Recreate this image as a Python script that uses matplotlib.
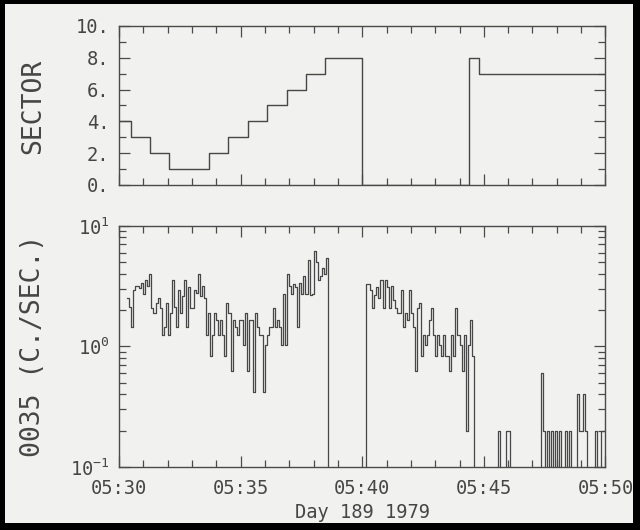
import numpy as np
import matplotlib
matplotlib.use("Agg")
import matplotlib.pyplot as plt
from matplotlib.ticker import MultipleLocator, FuncFormatter, LogLocator, NullFormatter
from matplotlib.patches import Rectangle

plt.rcParams['font.family'] = ['DejaVu Sans Mono', 'DejaVu Sans']
plt.rcParams['mathtext.fontset'] = 'custom'
plt.rcParams['mathtext.rm'] = 'DejaVu Sans Mono'
plt.rcParams['mathtext.it'] = 'DejaVu Sans Mono'
plt.rcParams['mathtext.bf'] = 'DejaVu Sans Mono'

INK = '#464646'
LINE = '#474747'
PAPER = '#f1f1ef'

# all times in minutes after 05:30, day 189 1979
T_END = 20.0
BIN = 5.0 / 60.0          # 5 s accumulation bins

# sector number, step changes
sector_t = [0.0, 0.48, 1.28, 2.07, 3.70, 4.47, 5.30, 6.10, 6.90, 7.69, 8.48, 9.98, 14.41, 14.79]
sector_v = [4, 3, 2, 1, 2, 3, 4, 5, 6, 7, 8, 0, 8, 7]

# channel 0035 count rate (c/s), first stretch of data
seg1_start = 0.333
seg1_rate = [2.52, 2.12, 1.46, 2.91, 3.14, 3.14, 3.04, 3.35, 2.71, 3.57,
             3.18, 4.00, 2.08, 1.89, 2.29, 2.50, 2.08, 1.25, 1.46, 2.29,
             1.25, 1.89, 3.52, 2.14, 1.46, 2.95, 1.89, 2.60, 3.57, 1.46,
             3.10, 2.08, 2.08, 2.95, 2.77, 4.00, 2.60, 3.14, 2.50, 1.25,
             1.89, 0.83, 1.25, 1.89, 1.66, 1.25, 1.66, 1.25, 0.83, 2.29,
             1.89, 0.62, 1.66, 1.46, 1.25, 1.66, 1.66, 1.03, 1.89, 0.62,
             1.66, 1.66, 0.42, 1.89, 1.46, 1.25, 1.25, 0.42, 1.03, 1.25,
             1.46, 1.46, 2.08, 1.46, 1.66, 1.46, 1.03, 2.73, 1.03, 4.00,
             3.14, 2.73, 3.31, 3.10, 1.46, 3.35, 2.73, 3.80, 2.73, 5.23,
             2.68, 2.73, 6.13, 5.03, 3.57, 3.80, 4.46, 4.00, 5.40]

# second stretch
seg2_start = 10.167
seg2_rate = [3.31, 3.31, 2.95, 2.08, 2.68, 3.10, 2.52, 3.52, 2.08, 3.52,
             3.10, 2.08, 3.18, 2.44, 2.08, 1.89, 1.89, 2.91, 1.46, 1.89,
             1.66, 2.91, 1.89, 1.46, 0.62, 2.08, 2.29, 0.83, 1.25, 1.03,
             1.25, 1.66, 2.08, 1.25, 0.83, 1.25, 1.03, 0.83, 1.25, 0.83,
             0.83, 0.62, 1.25, 0.83, 2.08, 1.25, 1.03, 0.62, 1.25, 0.20,
             1.03, 1.66, 0.83]

# sparse counts at the end
seg3_t = [15.58, 15.92, 16.00, 17.33, 17.42, 17.58, 17.75, 17.92, 18.08,
          18.33, 18.50, 18.83, 18.92, 19.00, 19.08, 19.17, 19.58, 19.83, 19.92]
seg3_rate = [0.2, 0.2, 0.2, 0.6, 0.2, 0.2, 0.2, 0.2, 0.2,
             0.2, 0.2, 0.4, 0.2, 0.2, 0.4, 0.2, 0.2, 0.2, 0.2]

# put everything on one 5 s grid, empty bins fall below the axis,
# nothing before the first stretch
n_bins = int(round(T_END / BIN))
rate = np.zeros(n_bins)
k1 = int(round(seg1_start / BIN))
rate[k1:k1 + len(seg1_rate)] = seg1_rate
k2 = int(round(seg2_start / BIN))
rate[k2:k2 + len(seg2_rate)] = seg2_rate
for t, r in zip(seg3_t, seg3_rate):
    rate[int(round(t / BIN))] = r
rate = np.where(rate > 0, rate, 1e-3)
rate[:k1] = np.nan
edges = np.arange(n_bins + 1) * BIN

fig = plt.figure(figsize=(6.4, 5.3), dpi=100, facecolor='black')
fig.patches.append(Rectangle((0.008, 0.014), 0.981, 0.978, transform=fig.transFigure,
                             facecolor=PAPER, edgecolor='none', zorder=-10))

ax1 = fig.add_axes([0.186, 0.651, 0.760, 0.300])
ax2 = fig.add_axes([0.186, 0.119, 0.760, 0.455])

st = sector_t + [T_END]
sv = sector_v + [sector_v[-1]]
ax1.step(st, sv, where='post', color=LINE, lw=1.0)
ax1.set_xlim(0, T_END)
ax1.set_ylim(0, 10)
ax1.yaxis.set_major_locator(MultipleLocator(2))
ax1.yaxis.set_minor_locator(MultipleLocator(1))
ax1.yaxis.set_major_formatter(FuncFormatter(lambda v, _: f"{v:.0f}."))

ax2.step(edges, np.append(rate, rate[-1]), where='post', color=LINE, lw=0.9)
ax2.set_yscale('log')
ax2.set_xlim(0, T_END)
ax2.set_ylim(0.1, 10)
ax2.yaxis.set_major_locator(LogLocator(base=10, numticks=5))
ax2.yaxis.set_minor_locator(LogLocator(base=10, subs=np.arange(2, 10), numticks=20))
ax2.yaxis.set_minor_formatter(NullFormatter())
ax2.yaxis.set_major_formatter(FuncFormatter(
    lambda v, _: "$10^{%d}$" % int(round(np.log10(v)))))
ax2.xaxis.set_major_formatter(FuncFormatter(lambda v, _: f"05:{30 + int(round(v)):02d}"))
ax2.set_xlabel("Day 189 1979", fontsize=13.5, color=INK, labelpad=3)

for ax in (ax1, ax2):
    ax.set_facecolor(PAPER)
    ax.xaxis.set_major_locator(MultipleLocator(5))
    ax.xaxis.set_minor_locator(MultipleLocator(1))
    ax.tick_params(which='both', direction='in', top=True, right=True,
                   color='#4a4a4a', labelcolor=INK, labelsize=13.5, width=0.9)
    ax.tick_params(which='major', length=8)
    ax.tick_params(which='minor', length=5)
    ax.tick_params(axis='y', pad=7)
    ax.tick_params(axis='x', pad=9)
    for s in ax.spines.values():
        s.set_color('#4a4a4a')
        s.set_linewidth(1.0)
ax1.tick_params(labelbottom=False)

fig.text(0.052, 0.80, "SECTOR", rotation=90, ha='center', va='center',
         fontsize=19, color=INK)
fig.text(0.052, 0.347, "0035 (C./SEC.)", rotation=90, ha='center', va='center',
         fontsize=19, color=INK)

fig.savefig("out.png", dpi=100, facecolor=fig.get_facecolor())
